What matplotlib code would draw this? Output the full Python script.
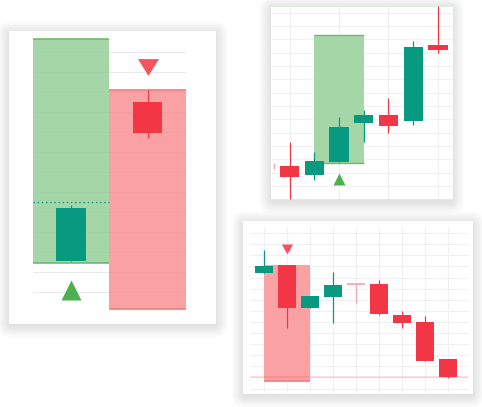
import matplotlib
matplotlib.use("Agg")
import matplotlib.pyplot as plt
from matplotlib.patches import FancyBboxPatch, Rectangle
import numpy as np

W, H = 482, 407
GREEN = "#089981"
RED = "#f23645"
GZONE = "#a5d6a7"
GZONE_EDGE = "#6dbb70"
RZONE = "#faa1a4"
RZONE_EDGE = "#f07c80"
GTRI = "#4caf50"
RTRI = "#f7525f"
GRID = "#eef0f4"

# ---------------- data ----------------
# Panel 1 (zoomed pair)
p1_idx = [0, 1]
p1_open = [63, 222]
p1_high = [119, 234]
p1_low = [63, 186]
p1_close = [116, 191]
p1_zone_green = (61, 285)      # bottom, top
p1_zone_red = (15, 234)
p1_dotted = 122
p1_tri_up = 34
p1_tri_down = 257.5
p1_grid = [272.3 - 20 * k for k in range(13)]

# Panel 2 (bullish)
p2_idx = [0, 1, 2, 3, 4, 5, 6]
p2_open = [33.7, 25, 37.7, 77, 85, 79.3, 154.7]
p2_high = [57.7, 47.7, 83, 90, 101.7, 158.7, 194]
p2_low = [1, 20, 37.7, 57.7, 66.7, 75, 146.7]
p2_close = [23, 39, 73, 85, 74.3, 153, 150.3]
p2_edge_wick = (-0.62, 31, 37)  # x, low, high of the clipped candle at the left edge
p2_zone = (1, 3, 37.3, 164.7)  # x0, x1, bottom, top
p2_tri_x, p2_tri_y = 2, 20.8
p2_grid_y = [14 + 13.33 * k for k in range(14)]
p2_grid_x = [0, 2, 4, 6]

# Panel 3 (bearish)
p3_idx = [0, 1, 2, 3, 4, 5, 6, 7, 8]
p3_open = [121.7, 130, 87.3, 98.3, 111.3, 110.7, 80.3, 73, 36]
p3_high = [145.3, 130, 99, 123, 112, 114.7, 84.3, 79, 36]
p3_low = [121.7, 66.7, 87.3, 72.3, 91.7, 80, 67.3, 33.7, 16.7]
p3_close = [129.3, 86.7, 99, 110.3, 111.3, 81, 71.7, 33.7, 18]
p3_zone = (0, 2, 14.3, 130)
p3_tri_x, p3_tri_y = 1, 145.7
p3_level = 18
p3_grid_y = [6.5 + 11.1 * k for k in range(15)]
p3_grid_x = list(range(9))

# ---------------- figure ----------------
fig = plt.figure(figsize=(W / 100, H / 100), dpi=100)
bg = fig.add_axes([0, 0, 1, 1])
bg.set_xlim(0, W)
bg.set_ylim(H, 0)
bg.axis("off")

cards = [(9, 31, 216, 324), (271, 6, 452.7, 200), (243.3, 221, 472.7, 394.3)]
for (x0, y0, x1, y1) in cards:
    for i in range(10):
        pad = 1 + i * 1.3
        bg.add_patch(FancyBboxPatch((x0 - pad + 1, y0 - pad + 3), (x1 - x0) + 2 * pad - 2,
                                    (y1 - y0) + 2 * pad - 2,
                                    boxstyle="round,pad=0,rounding_size=%f" % (pad + 1),
                                    fc="#1a2a3a", ec="none", alpha=0.011, zorder=1))
    bg.add_patch(Rectangle((x0, y0), x1 - x0, y1 - y0, fc="white", ec="none", zorder=2))


def panel_axes(card, xlim, ylim):
    x0, y0, x1, y1 = card
    ax = fig.add_axes([x0 / W, 1 - y1 / H, (x1 - x0) / W, (y1 - y0) / H])
    ax.set_xlim(*xlim)
    ax.set_ylim(*ylim)
    ax.axis("off")
    ax.patch.set_alpha(0)
    return ax


def candles(ax, idx, o, h, l, c, width, colors=None, zorder=5):
    for k, (x, oo, hh, ll, cc) in enumerate(zip(idx, o, h, l, c)):
        col = GREEN if cc >= oo else RED
        if colors is not None and colors[k] is not None:
            col = colors[k]
        ax.vlines(x, ll, hh, color=col, lw=0.9, zorder=zorder)
        body = abs(cc - oo)
        if body < 0.8:
            ax.hlines(oo, x - width / 2, x + width / 2, color=col, lw=1.2, zorder=zorder)
        else:
            ax.bar(x, body, bottom=min(oo, cc), width=width, color=col, zorder=zorder + 0.1,
                   linewidth=0)


def tri_down(h):
    return [(-1, h), (1, h), (0, -h)]


# ---------------- panel 1 ----------------
ax1 = panel_axes(cards[0], (-0.81, 1.895), (0, 293))
ax1.hlines(p1_grid, -0.5, 1.5, color=GRID, lw=0.8, zorder=1)
ax1.add_patch(Rectangle((-0.5, p1_zone_green[0]), 1, p1_zone_green[1] - p1_zone_green[0],
                        fc=GZONE, ec="none", zorder=2))
ax1.hlines(p1_zone_green, -0.5, 0.5, color=GZONE_EDGE, lw=1.2, zorder=3)
ax1.add_patch(Rectangle((0.5, p1_zone_red[0]), 1, p1_zone_red[1] - p1_zone_red[0],
                        fc=RZONE, ec="none", zorder=2))
ax1.hlines(p1_zone_red, 0.5, 1.5, color=RZONE_EDGE, lw=1.2, zorder=3)
ax1.hlines(p1_grid, -0.5, 1.5, color="#000000", alpha=0.025, lw=0.8, zorder=3)
ax1.hlines(p1_dotted, -0.5, 0.5, color=GREEN, lw=1, linestyles=(0, (1, 2)), zorder=4)
candles(ax1, p1_idx, p1_open, p1_high, p1_low, p1_close, 0.39)
ax1.plot([0], [p1_tri_up], marker="^", ms=14.4, color=GTRI, mec="none", zorder=6)
ax1.plot([1], [p1_tri_down], marker=tri_down(0.8), ms=15.1, color=RTRI, mec="none", zorder=6)

# ---------------- panel 2 ----------------
ax2 = panel_axes(cards[1], (-0.757, 6.6), (0, 194))
ax2.hlines(p2_grid_y, -0.757, 6.6, color=GRID, lw=0.8, zorder=1)
ax2.vlines(p2_grid_x, 0, 194, color=GRID, lw=0.8, zorder=1)
ax2.hlines([0.5, 193.5], -0.757, 6.6, color="#d6ecd7", lw=1.2, zorder=1)
zx0, zx1, zb, zt = p2_zone
ax2.add_patch(Rectangle((zx0, zb), zx1 - zx0, zt - zb, fc=GZONE, ec="none", zorder=2))
ax2.hlines([zb, zt], zx0, zx1, color=GZONE_EDGE, lw=1, zorder=3)
ax2.vlines(p2_edge_wick[0], p2_edge_wick[1], p2_edge_wick[2], color="#f5a5ac", lw=1, zorder=4)
candles(ax2, p2_idx, p2_open, p2_high, p2_low, p2_close, 0.78)
ax2.plot([p2_tri_x], [p2_tri_y], marker="^", ms=9.0, color=GTRI, mec="none", zorder=6)

# ---------------- panel 3 ----------------
ax3 = panel_axes(cards[2], (-0.9, 9.07), (0.7, 174))
ax3.hlines(p3_grid_y, -0.61, 8.87, color=GRID, lw=0.8, zorder=1)
ax3.vlines(p3_grid_x, 3, 168, color=GRID, lw=0.8, zorder=1)
zx0, zx1, zb, zt = p3_zone
ax3.add_patch(Rectangle((zx0, zb), zx1 - zx0, zt - zb, fc=RZONE, ec="none", zorder=2))
ax3.hlines([zb], zx0, zx1, color=RZONE_EDGE, lw=1.2, zorder=3)
ax3.hlines(p3_level, -0.61, 8.87, color=RED, alpha=0.18, lw=1.2, zorder=3)
p3_colors = [None] * 4 + ["#f7a3ab"] + [None] * 4
candles(ax3, p3_idx, p3_open, p3_high, p3_low, p3_close, 0.8, colors=p3_colors)
ax3.plot([p3_tri_x], [p3_tri_y], marker=tri_down(0.885), ms=8.1, color=RTRI, mec="none", zorder=6)

fig.savefig("out.png", dpi=100)
